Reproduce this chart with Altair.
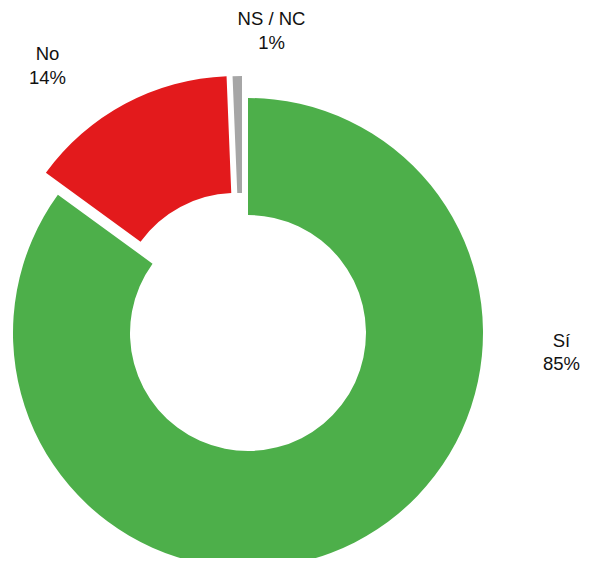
import altair as alt
import pandas as pd

categories = ["Sí", "No", "NS / NC"]
values = [85.0, 14.36, 0.64]
colors = ["#4DAF4A", "#E31A1C", "#A6A6A6"]

starts, ends, acc = [], [], 0.0
for v in values:
    starts.append(acc)
    acc += v
    ends.append(acc)

df = pd.DataFrame({
    "cat": categories,
    "value": values,
    "start": starts,
    "end": ends,
    "label": [f"{c}\n{round(v):.0f}%" for c, v in zip(categories, values)],
})

CX, CY = 240, 325
R_OUT, R_IN = 235, 118
# explosion offsets per slice (layout)
offsets = {"Sí": (0, 0), "No": (-12, -22), "NS / NC": (-6, -22)}
# label anchors (layout): center x, first-line baseline
label_pos = {"Sí": (553.5, 338.5), "No": (39.5, 52), "NS / NC": (263.5, 17)}

base = alt.Chart(df)
theta_scale = alt.Scale(domain=[0, 100])
color_scale = alt.Scale(domain=categories, range=colors)

layers = []
for c in categories:
    dx, dy = offsets[c]
    layers.append(
        base.transform_filter(alt.datum.cat == c)
        .mark_arc(outerRadius=R_OUT, innerRadius=R_IN)
        .encode(
            theta=alt.Theta("start:Q", scale=theta_scale),
            theta2=alt.Theta2("end:Q"),
            color=alt.Color("cat:N", scale=color_scale, legend=None),
            x=alt.value(CX + dx),
            y=alt.value(CY + dy),
        )
    )
for c in categories:
    lx, ly = label_pos[c]
    layers.append(
        base.transform_filter(alt.datum.cat == c)
        .mark_text(
            lineBreak="\n",
            lineHeight=23.5,
            fontSize=18.5,
            font="Liberation Sans",
            color="#111111",
            align="center",
            baseline="alphabetic",
        )
        .encode(text=alt.Text("label:N"), x=alt.value(lx), y=alt.value(ly))
    )

chart = (
    alt.layer(*layers)
    .properties(width=574, height=550, padding=0, autosize=alt.AutoSizeParams(type="none"))
    .configure_view(stroke=None)
)

chart.save("out.html", embed_options={"renderer": "svg", "actions": False})
